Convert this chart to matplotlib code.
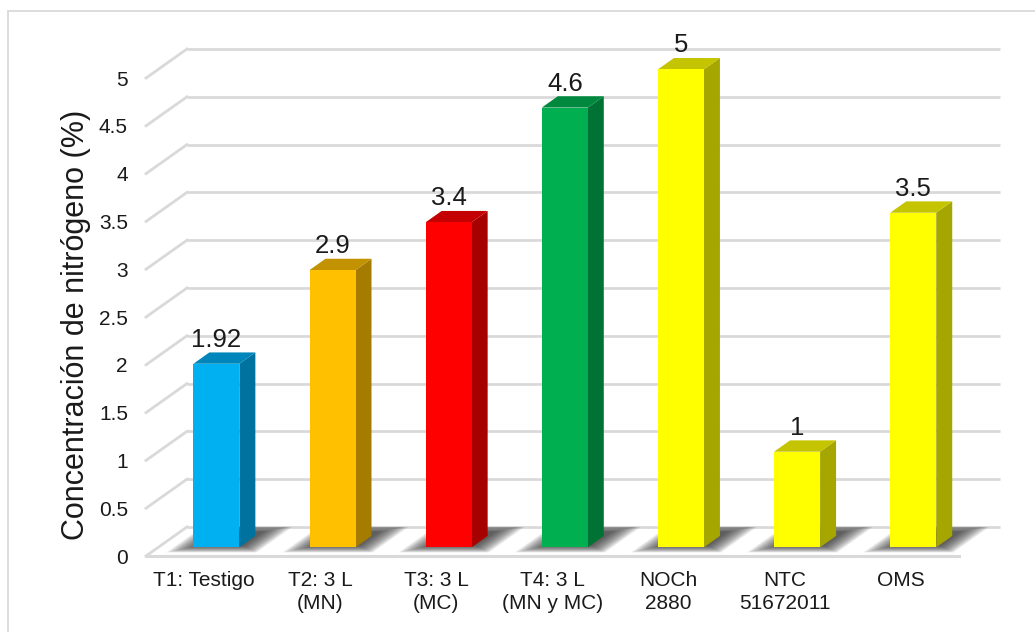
import numpy as np
import matplotlib
matplotlib.use("Agg")
import matplotlib.pyplot as plt
from matplotlib.patches import Polygon, Rectangle

plt.rcParams["font.family"] = ["Liberation Sans", "DejaVu Sans"]

# ---- data -------------------------------------------------------------
categories = ["T1: Testigo", "T2: 3 L\n(MN)", "T3: 3 L\n(MC)", "T4: 3 L\n(MN y MC)",
              "NOCh\n2880", "NTC\n51672011", "OMS"]
values = [1.92, 2.9, 3.4, 4.6, 5.0, 1.0, 3.5]
value_labels = ["1.92", "2.9", "3.4", "4.6", "5", "1", "3.5"]
front_colors = ["#00B0F0", "#FFC000", "#FF0000", "#00B050", "#FFFF00", "#FFFF00", "#FFFF00"]
top_colors = ["#0086BA", "#C29200", "#C40000", "#00883E", "#C4C400", "#C4C400", "#C4C400"]
side_colors = ["#00729F", "#A67C00", "#A60000", "#007234", "#A6A600", "#A6A600", "#A6A600"]
y_ticks = [0, 0.5, 1, 1.5, 2, 2.5, 3, 3.5, 4, 4.5, 5]
y_tick_labels = ["0", "0.5", "1", "1.5", "2", "2.5", "3", "3.5", "4", "4.5", "5"]
y_label = "Concentración de nitrógeno (%)"

# ---- 3D projection parameters (oblique) -------------------------------
DX = 0.353   # horizontal shift of the back wall, in category units
DY = 0.304   # vertical shift of the back wall, in value units
BAR_W = 0.396
D0, D1 = 0.30, 0.69   # depth span occupied by each bar
GRID = "#D9D9D9"


def floor_pt(u, w):
    """Point on the floor: u along the categories, w in depth (0 front, 1 back)."""
    return (u + w * DX, w * DY)


W, Hpx = 1035, 632
fig = plt.figure(figsize=(W / 100, Hpx / 100), dpi=100)
fig.patch.set_facecolor("white")

n = len(categories)
ax = fig.add_axes([146 / W, (Hpx - 556) / Hpx, 854 / W, 507 / Hpx])
ax.set_xlim(0, n + DX)
ax.set_ylim(0, 5 + DY)
for s in ax.spines.values():
    s.set_visible(False)
ax.set_facecolor("none")

# back-wall gridlines with their diagonal side connectors
for v in y_ticks:
    ax.plot([DX, n + DX], [v + DY, v + DY], color=GRID, lw=2.0, zorder=1,
            solid_capstyle="butt", clip_on=False)
    ax.plot([0, DX], [v, v + DY], color=GRID, lw=2.0, zorder=1, clip_on=False)
# front edge of the floor
ax.plot([0, n], [0, 0], color=GRID, lw=2.2, zorder=1, clip_on=False)

# soft floor shadows: stacked translucent footprints
K = 14
for i in range(n):
    c = i + 0.5 + 0.02
    for k in range(K):
        e = 0.19 * (1 - k / (K - 1))
        u0, u1 = c - BAR_W / 2 - e, c + BAR_W / 2 + e
        w0 = max(D0 + 0.05 - 1.2 * e, 0.05)
        w1 = min(D1 + 0.15 + 1.2 * e, 1.0)
        pts = [floor_pt(u0, w0), floor_pt(u1, w0), floor_pt(u1, w1), floor_pt(u0, w1)]
        ax.add_patch(Polygon(pts, closed=True, facecolor="#262626", edgecolor="none",
                             alpha=0.085, zorder=2))

# bars
for i, v in enumerate(values):
    xl = i + 0.5 - BAR_W / 2
    xr = i + 0.5 + BAR_W / 2
    fx0, fy0 = D0 * DX, D0 * DY
    fx1, fy1 = D1 * DX, D1 * DY
    front = Polygon([(xl + fx0, fy0), (xr + fx0, fy0), (xr + fx0, v + fy0), (xl + fx0, v + fy0)],
                    closed=True, facecolor=front_colors[i], edgecolor="none", zorder=4)
    side = Polygon([(xr + fx0, fy0), (xr + fx1, fy1), (xr + fx1, v + fy1), (xr + fx0, v + fy0)],
                   closed=True, facecolor=side_colors[i], edgecolor="none", zorder=3)
    top = Polygon([(xl + fx0, v + fy0), (xr + fx0, v + fy0), (xr + fx1, v + fy1), (xl + fx1, v + fy1)],
                  closed=True, facecolor=top_colors[i], edgecolor="none", zorder=3)
    for p in (side, top, front):
        ax.add_patch(p)
    ax.annotate(value_labels[i], xy=(i + 0.5 + fx0, v + fy1), xytext=(0, 4),
                textcoords="offset points", ha="center", va="baseline",
                fontsize=18.5, color="#1a1a1a", zorder=6, annotation_clip=False)

# axes labels and ticks on the front plane
ax.set_yticks(y_ticks)
ax.set_yticklabels(y_tick_labels, fontsize=15, color="#1a1a1a")
ax.set_xticks([i + 0.5 for i in range(n)])
ax.set_xticklabels(categories, fontsize=15, color="#1a1a1a", linespacing=1.25)
ax.tick_params(axis="y", length=0, pad=13)
ax.tick_params(axis="x", length=0, pad=11)

fig.text(76 / W, 1 - 325 / Hpx, y_label, rotation=90, ha="center", va="center",
         fontsize=22, color="#1a1a1a")

# chart-area frame
fig.patches.append(Rectangle((8 / W, -0.05), 1.2, 1 - 11 / Hpx + 0.05,
                             transform=fig.transFigure, fill=False,
                             edgecolor="#D9D9D9", lw=1.3, zorder=0))

fig.savefig("out.png", dpi=100, facecolor="white")
